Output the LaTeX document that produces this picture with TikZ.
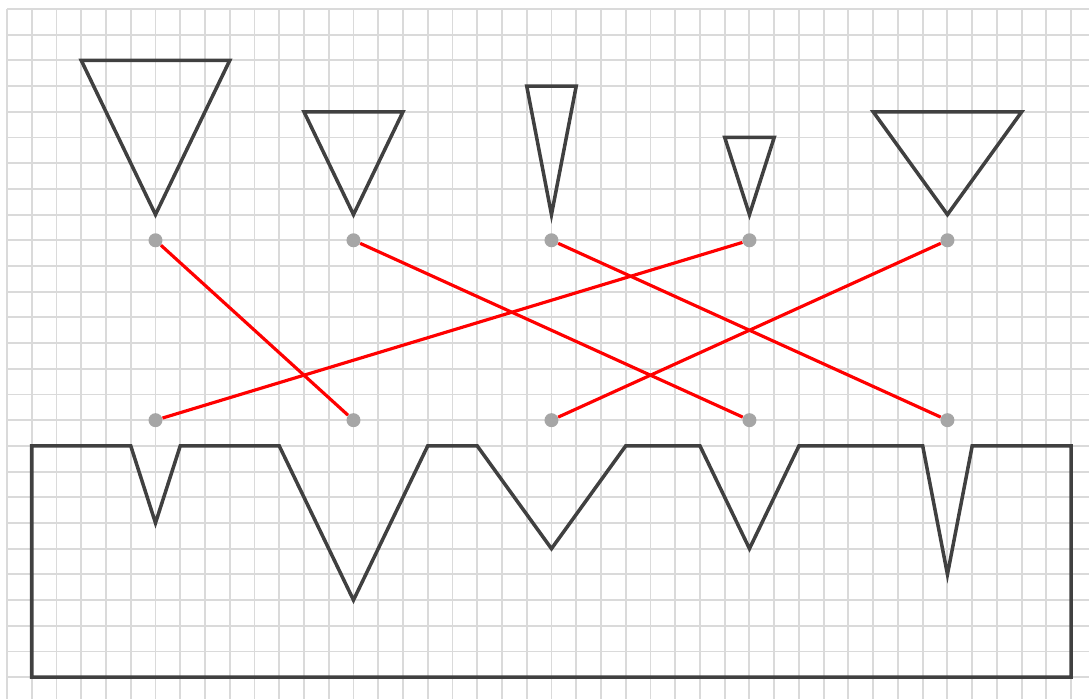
\documentclass[tikz,border=0pt]{standalone}
\usetikzlibrary{positioning}
\definecolor{gridgray}{HTML}{DADADA}
\definecolor{shapegray}{HTML}{404040}
\definecolor{peggray}{HTML}{A6A6A6}
\tikzset{
    piece/.style={draw=shapegray, line width=2pt},
    peg/.style={circle, fill=peggray, inner sep=0pt, minimum size=2.8mm},
    link/.style={draw=red, line width=1.8pt},
}
\begin{document}
\begin{tikzpicture}[x=0.495cm, y=-0.514cm]
    \useasboundingbox (-0.283,-0.35) rectangle (43.72,26.85);
    \foreach \i in {0,...,43} \draw[gridgray, line width=1.1pt] (\i,0) -- (\i,26.85);
    \foreach \j in {0,...,26} \draw[gridgray, line width=1.1pt] (0,\j) -- (43.72,\j);
    % pieces
    \draw[piece] (3,2) -- (9,2) -- (6,8) -- cycle;
    \draw[piece] (12,4) -- (16,4) -- (14,8) -- cycle;
    \draw[piece] (21,3) -- (23,3) -- (22,8) -- cycle;
    \draw[piece] (29,5) -- (31,5) -- (30,8) -- cycle;
    \draw[piece] (35,4) -- (41,4) -- (38,8) -- cycle;
    % board
    \draw[piece] (1,17) -- (5,17) -- (6,20) -- (7,17) -- (11,17) -- (14,23) -- (17,17)
        -- (19,17) -- (22,21) -- (25,17) -- (28,17) -- (30,21) -- (32,17)
        -- (37,17) -- (38,22) -- (39,17) -- (43,17) -- (43,26) -- (1,26) -- cycle;
    % pegs
    \foreach \k/\x in {a/6,b/14,c/22,d/30,e/38}{
        \node[peg] (top\k) at (\x,9) {};
        \node[peg] (bot\k) at (\x,16) {};
    }
    \draw[link] (topa) -- (botb);
    \draw[link] (topb) -- (botd);
    \draw[link] (topc) -- (bote);
    \draw[link] (topd) -- (bota);
    \draw[link] (tope) -- (botc);
\end{tikzpicture}
\end{document}
